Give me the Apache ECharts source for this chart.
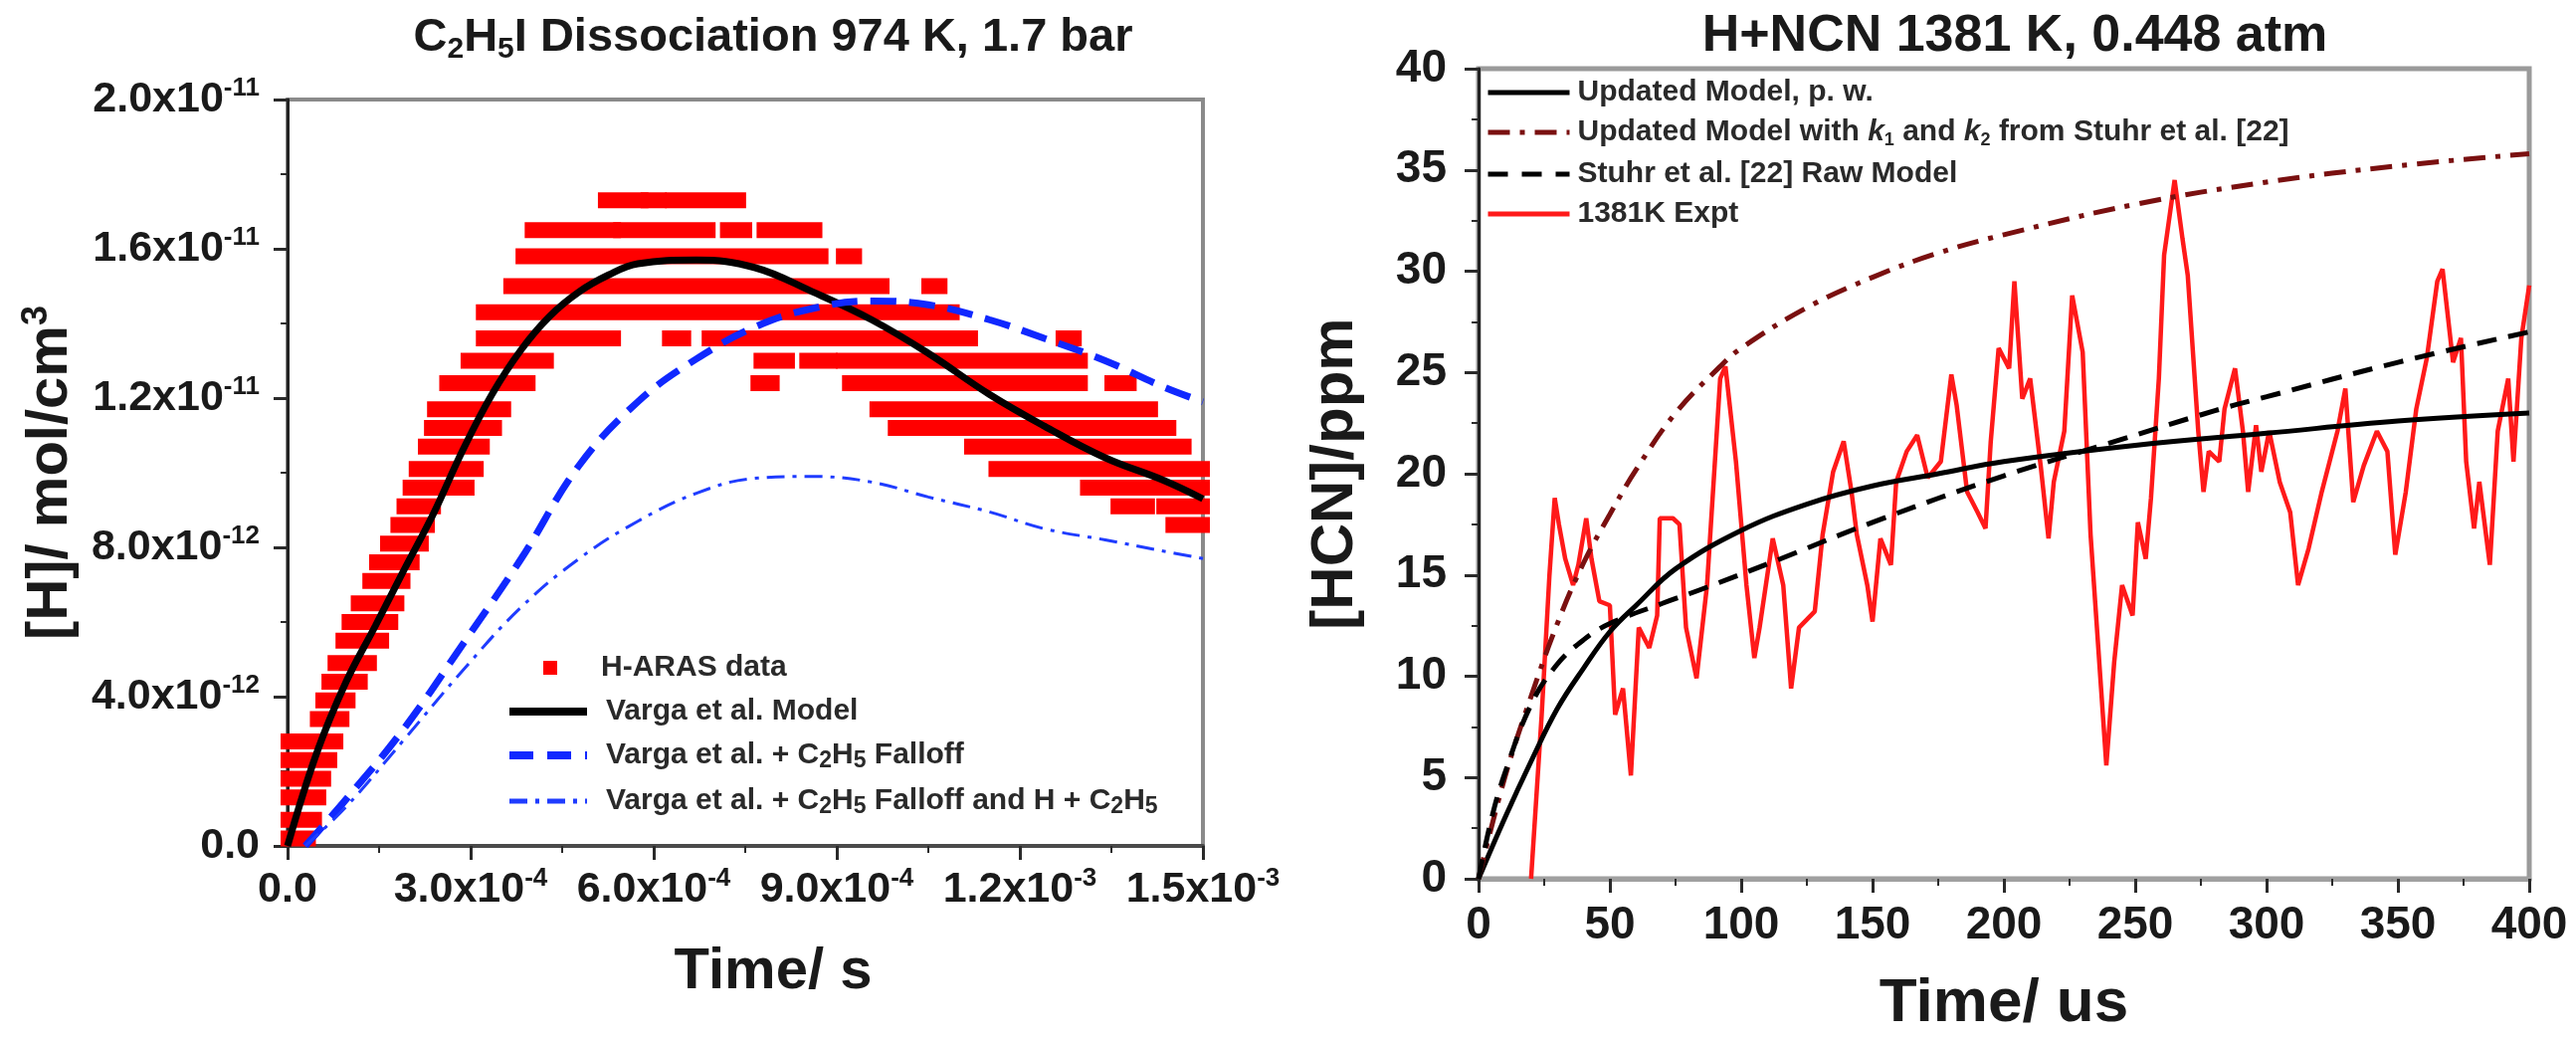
<!DOCTYPE html>
<html>
<head>
<meta charset="utf-8">
<script src="https://cdn.jsdelivr.net/npm/echarts@6/dist/echarts.min.js"></script>
<style>
  html, body { margin: 0; padding: 0; background: #fff; }
  #chart { width: 2589px; height: 1045px; }
</style>
</head>
<body>
<div id="chart"></div>
<script>
// ---- left panel: time in 1e-4 s, [H] in 1e-12 mol/cm3 ----
const leftXTickMant = ['0.0', '3.0', '6.0', '9.0', '1.2', '1.5'];
const leftXTickExp  = ['', '-4', '-4', '-4', '-3', '-3'];
const leftYTickMant = ['0.0', '4.0', '8.0', '1.2', '1.6', '2.0'];
const leftYTickExp  = ['', '-12', '-12', '-11', '-11', '-11'];

// H-ARAS data: horizontal runs of squares [level, tStart, tEnd]
const harasRuns = [
  [17.3, 5.2, 5.8], [17.3, 5.9, 6.1], [17.3, 6.3, 7.4],
  [16.5, 4.0, 5.35], [16.5, 5.45, 6.9], [16.5, 7.2, 7.5], [16.5, 7.8, 8.65],
  [15.8, 3.85, 8.75], [15.8, 9.1, 9.3],
  [15.0, 3.65, 9.75], [15.0, 10.5, 10.7],
  [14.3, 3.2, 10.9],
  [13.6, 3.2, 5.35], [13.6, 6.25, 6.5], [13.6, 6.9, 11.2], [13.6, 12.7, 12.9],
  [13.0, 2.95, 4.25], [13.0, 7.75, 8.2], [13.0, 8.5, 8.9], [13.0, 9.1, 13.0],
  [12.4, 2.6, 3.95], [12.4, 7.7, 7.95], [12.4, 9.2, 13.0], [12.4, 13.5, 13.8],
  [11.7, 2.4, 3.55], [11.7, 9.65, 14.15],
  [11.2, 2.35, 3.4], [11.2, 9.95, 14.45],
  [10.7, 2.25, 3.2], [10.7, 11.2, 14.7],
  [10.1, 2.1, 3.1], [10.1, 11.6, 15.0],
  [9.6, 2.0, 2.95], [9.6, 13.1, 15.0],
  [9.1, 1.9, 2.4], [9.1, 13.6, 14.1], [9.1, 14.35, 15.0],
  [8.6, 1.8, 2.3], [8.6, 14.5, 15.0],
  [8.1, 1.63, 2.2],
  [7.6, 1.45, 2.05],
  [7.1, 1.34, 1.9],
  [6.5, 1.15, 1.8],
  [6.0, 1.0, 1.7],
  [5.5, 0.9, 1.55],
  [4.9, 0.77, 1.35],
  [4.4, 0.67, 1.2],
  [3.9, 0.57, 1.0],
  [3.4, 0.48, 0.9],
  [2.8, 0.0, 0.2], [2.8, 0.33, 0.8],
  [2.3, 0.0, 0.7],
  [1.8, 0.0, 0.6],
  [1.3, 0.0, 0.52],
  [0.7, 0.0, 0.45],
  [0.2, 0.0, 0.35]
];
const vargaModel = [[0, 0], [0.48, 2.5], [0.96, 4.4], [1.44, 5.9], [1.91, 7.4], [2.39, 8.9], [2.87, 10.6],
  [3.35, 12.1], [3.83, 13.3], [4.3, 14.2], [4.78, 14.85], [5.26, 15.3], [5.74, 15.6], [6.7, 15.7],
  [7.65, 15.5], [8.6, 14.85], [9.57, 14.1], [10.5, 13.2], [11.5, 12.1], [12.4, 11.25], [13.4, 10.4],
  [14.35, 9.8], [15, 9.3]];
const vargaFalloff = [[0.29, 0], [0.96, 1.25], [1.91, 3.15], [2.87, 5.4], [3.83, 7.7], [4.78, 10.2],
  [5.74, 11.9], [6.7, 13.05], [7.65, 13.9], [8.6, 14.4], [9.57, 14.6], [10.5, 14.5], [11.5, 14.1],
  [12.4, 13.6], [13.4, 13.0], [14.35, 12.3], [15, 11.9]];
const vargaFalloffHC2H5 = [[0.29, 0], [0.96, 1.05], [1.91, 2.85], [2.87, 4.7], [3.83, 6.4], [4.78, 7.7],
  [5.74, 8.7], [6.7, 9.45], [7.65, 9.85], [8.6, 9.9], [9.57, 9.75], [10.5, 9.35], [11.5, 8.95],
  [12.4, 8.5], [13.4, 8.2], [14.35, 7.9], [15, 7.7]];

// ---- right panel: time in us, [HCN] in ppm ----
const hcnExpt = [[20, 0], [24, 8], [27, 15], [29, 18.8], [30.6, 17.5], [33, 15.8], [36, 14.5], [38, 15.5],
  [41, 17.8], [43, 15.8], [46, 13.7], [50, 13.5], [52, 8.1], [55, 9.4], [58, 5.1], [61, 12.4], [65, 11.4],
  [68, 13], [69, 17.8], [74, 17.8], [76.5, 17.5], [79, 12.4], [83, 9.9], [87, 14.5], [92, 24.7], [94, 25.3],
  [98, 20.6], [102, 14.5], [105, 10.9], [107, 12.4], [112, 16.8], [116, 14.5], [119, 9.4], [122, 12.4],
  [128, 13.2], [131, 17], [135, 20.1], [139, 21.6], [142, 19.1], [144, 17], [148, 14.5], [150, 12.7],
  [153, 16.8], [157, 15.5], [159, 19.6], [163, 21.1], [167, 21.9], [171, 19.8], [176, 20.6], [180, 24.9],
  [182, 23.4], [186, 19.1], [190, 18.1], [193, 17.3], [195, 21.6], [198, 26.2], [202, 25.2], [204, 29.5],
  [207, 23.7], [210, 24.7], [214, 20.4], [217, 16.8], [219, 19.6], [223, 22.1], [226, 28.8], [230, 26],
  [233, 17], [237, 9.4], [239, 5.6], [242, 10.7], [245, 14.5], [249, 13], [251, 17.6], [254, 15.8],
  [256, 18.8], [259, 24.7], [261, 30.8], [265, 34.5], [268, 31.6], [270, 29.8], [274, 22.1], [276, 19.1],
  [278, 21.1], [282, 20.6], [284, 23.2], [288, 25.2], [291, 22.1], [293, 19.1], [296, 22.4], [298, 20.1],
  [301, 22.1], [305, 19.6], [309, 18.1], [312, 14.5], [316, 16.3], [321, 19.1], [327, 22.1], [330, 24.2],
  [333, 18.6], [337, 20.4], [342, 22.1], [346, 21.1], [349, 16], [353, 19.1], [357, 23.2], [361, 25.7],
  [365, 29.5], [367, 30.1], [371, 25.5], [374, 26.7], [376, 20.6], [379, 17.3], [381, 19.6], [385, 15.5],
  [388, 22.1], [392, 24.7], [394, 20.6], [397, 26.7], [400, 29.3]];
const updatedModel = [[0, 0], [10, 3], [20, 5.8], [30, 8.4], [40, 10.4], [50, 12.2], [60, 13.5], [75, 15.3],
  [100, 17.2], [125, 18.5], [150, 19.4], [175, 20.0], [200, 20.6], [250, 21.4], [300, 22.0], [350, 22.6],
  [400, 23.0]];
const updatedModelStuhrK = [[0, 0], [10, 5], [20, 9], [30, 12.6], [40, 15.6], [50, 18], [60, 20.2], [75, 23],
  [92, 25.3], [100, 26.2], [125, 28.2], [150, 29.7], [175, 30.9], [200, 31.8], [250, 33.3], [300, 34.4],
  [350, 35.2], [400, 35.8]];
const stuhrRawModel = [[0, 0], [5, 3], [10, 5.2], [20, 8.6], [30, 10.6], [40, 11.8], [50, 12.6], [70, 13.6],
  [85, 14.3], [115, 15.8], [150, 17.6], [200, 19.9], [240, 21.5], [280, 23.1], [300, 23.8], [350, 25.5],
  [400, 27.0]];

const FONT = 'Liberation Sans, Arial, Helvetica, sans-serif';
const chart = echarts.init(document.getElementById('chart'));

const supLabel = (mant, exp) => (i) => exp[i] ? '{m|' + mant[i] + 'x10}{e|' + exp[i] + '}' : '{m|' + mant[i] + '}';
const supRich = {
  m: { fontSize: 43, fontWeight: 'bold', fontFamily: FONT, color: '#1a1a1a', lineHeight: 48 },
  e: { fontSize: 26, fontWeight: 'bold', fontFamily: FONT, color: '#1a1a1a', lineHeight: 22, verticalAlign: 'top' }
};
const legendRich = {
  t: { fontSize: 30, fontWeight: 'bold', fontFamily: FONT, color: '#2a2a2a', lineHeight: 34 },
  s: { fontSize: 23, fontWeight: 'bold', fontFamily: FONT, color: '#2a2a2a', lineHeight: 18, verticalAlign: 'bottom' }
};
const legendRichR = {
  t: { fontSize: 30, fontWeight: 'bold', fontFamily: FONT, color: '#2a2a2a', lineHeight: 34 },
  k: { fontSize: 30, fontWeight: 'bold', fontStyle: 'italic', fontFamily: FONT, color: '#2a2a2a', lineHeight: 34 },
  s: { fontSize: 18, fontWeight: 'bold', fontFamily: FONT, color: '#2a2a2a', lineHeight: 14, verticalAlign: 'bottom' }
};
const legendNames = {
  'Varga et al. Model': '{t|Varga et al. Model}',
  'Varga et al. + C2H5 Falloff': '{t|Varga et al. + C}{s|2}{t|H}{s|5}{t| Falloff}',
  'Varga et al. + C2H5 Falloff and H + C2H5': '{t|Varga et al. + C}{s|2}{t|H}{s|5}{t| Falloff and H + C}{s|2}{t|H}{s|5}',
  'H-ARAS data': '{t|H-ARAS data}',
  'Updated Model, p. w.': '{t|Updated Model, p. w.}',
  'Updated Model with k1 and k2 from Stuhr et al. [22]': '{t|Updated Model with }{k|k}{s|1}{t| and }{k|k}{s|2}{t| from Stuhr et al. [22]}',
  'Stuhr et al. [22] Raw Model': '{t|Stuhr et al. [22] Raw Model}',
  '1381K Expt': '{t|1381K Expt}'
};
// hide the symbol that line series draw in the middle of their legend icon
const noMarker = { color: 'rgba(0,0,0,0)', borderColor: 'rgba(0,0,0,0)', borderWidth: 0 };

const tickCommon = { show: true, inside: false, length: 14, lineStyle: { color: '#2a2a2a', width: 3 } };
const minorCommon = { show: true, splitNumber: 2, length: 7, lineStyle: { color: '#2a2a2a', width: 2 } };

const option = {
  backgroundColor: '#ffffff',
  animation: false,
  title: [
    {
      text: '{t|C}{s|2}{t|H}{s|5}{t|I Dissociation 974 K, 1.7 bar}',
      left: 772, top: 6, textAlign: 'center',
      textStyle: { rich: {
        t: { fontSize: 47, fontWeight: 'bold', fontFamily: FONT, color: '#1a1a1a', lineHeight: 54 },
        s: { fontSize: 30, fontWeight: 'bold', fontFamily: FONT, color: '#1a1a1a', lineHeight: 28, verticalAlign: 'bottom' }
      } }
    },
    {
      text: 'H+NCN 1381 K, 0.448 atm',
      left: 2020, top: 6, textAlign: 'center',
      textStyle: { fontSize: 52, fontWeight: 'bold', fontFamily: FONT, color: '#1a1a1a' }
    }
  ],
  legend: [
    {
      data: [{ name: 'H-ARAS data', icon: 'rect', itemStyle: { color: '#ff0000' } }],
      orient: 'vertical', left: 546, top: 656, padding: 0,
      itemWidth: 14, itemHeight: 14,
      formatter: n => legendNames[n],
      textStyle: { rich: legendRich, padding: [0, 0, 0, 39] }
    },
    {
      data: [
        { name: 'Varga et al. Model', itemStyle: noMarker, lineStyle: { width: 8, type: 'solid' } },
        { name: 'Varga et al. + C2H5 Falloff', itemStyle: noMarker, lineStyle: { width: 8, type: [24, 14] } },
        { name: 'Varga et al. + C2H5 Falloff and H + C2H5', itemStyle: noMarker, lineStyle: { width: 5, type: [18, 8, 4, 8] } }
      ],
      orient: 'vertical', left: 508, top: 700, padding: 0, itemGap: 14,
      itemWidth: 78, itemHeight: 16,
      formatter: n => legendNames[n],
      textStyle: { rich: legendRich, padding: [0, 0, 0, 14] }
    },
    {
      data: [
        { name: 'Updated Model, p. w.', itemStyle: noMarker, lineStyle: { width: 5, type: 'solid' } },
        { name: 'Updated Model with k1 and k2 from Stuhr et al. [22]', itemStyle: noMarker, lineStyle: { width: 5, type: [22, 10, 5, 10] } },
        { name: 'Stuhr et al. [22] Raw Model', itemStyle: noMarker, lineStyle: { width: 5, type: [20, 14] } },
        { name: '1381K Expt', itemStyle: noMarker, lineStyle: { width: 5, type: 'solid' } }
      ],
      orient: 'vertical', left: 1493, top: 78, padding: 0, itemGap: 10,
      itemWidth: 82, itemHeight: 16,
      formatter: n => legendNames[n],
      textStyle: { rich: legendRichR, padding: [0, 0, 0, 3] }
    }
  ],
  grid: [
    { left: 289, top: 100, width: 920, height: 750, show: true, borderColor: '#8a8a8a', borderWidth: 4, backgroundColor: '#fff' },
    { left: 1486, top: 69, width: 1056, height: 824, show: true, borderColor: '#9a9a9a', borderWidth: 5, backgroundColor: '#fff' }
  ],
  xAxis: [
    {
      gridIndex: 0, type: 'value', min: 0, max: 15, interval: 3,
      name: 'Time/ s', nameLocation: 'middle', nameGap: 98,
      nameTextStyle: { fontSize: 58, fontWeight: 'bold', fontFamily: FONT, color: '#1a1a1a', padding: [0, 0, 0, 56] },
      axisLine: { show: true, lineStyle: { color: '#4a4a4a', width: 4 } },
      axisTick: tickCommon, minorTick: minorCommon,
      splitLine: { show: false },
      axisLabel: { margin: 20, formatter: (v, i) => supLabel(leftXTickMant, leftXTickExp)(i), rich: supRich }
    },
    {
      gridIndex: 1, type: 'value', min: 0, max: 400, interval: 50,
      name: 'Time/ us', nameLocation: 'middle', nameGap: 95,
      nameTextStyle: { fontSize: 62, fontWeight: 'bold', fontFamily: FONT, color: '#1a1a1a' },
      axisLine: { show: true, lineStyle: { color: '#a0a0a0', width: 5 } },
      axisTick: tickCommon, minorTick: minorCommon,
      splitLine: { show: false },
      axisLabel: { margin: 24, fontSize: 46, fontWeight: 'bold', fontFamily: FONT, color: '#1a1a1a' }
    }
  ],
  yAxis: [
    {
      gridIndex: 0, type: 'value', min: 0, max: 20, interval: 4,
      name: '{t|[H]/ mol/cm}{p|3}', nameLocation: 'middle', nameGap: 206,
      nameTextStyle: { rich: {
        t: { fontSize: 58, fontWeight: 'bold', fontFamily: FONT, color: '#1a1a1a', lineHeight: 64 },
        p: { fontSize: 36, fontWeight: 'bold', fontFamily: FONT, color: '#1a1a1a', lineHeight: 36, verticalAlign: 'top' }
      } },
      axisLine: { show: true, lineStyle: { color: '#222', width: 3 } },
      axisTick: tickCommon, minorTick: minorCommon,
      splitLine: { show: false },
      axisLabel: { margin: 28, formatter: (v, i) => supLabel(leftYTickMant, leftYTickExp)(i), rich: supRich }
    },
    {
      gridIndex: 1, type: 'value', min: 0, max: 40, interval: 5,
      name: '[HCN]/ppm', nameLocation: 'middle', nameGap: 114,
      nameTextStyle: { fontSize: 60, fontWeight: 'bold', fontFamily: FONT, color: '#1a1a1a' },
      axisLine: { show: true, lineStyle: { color: '#222', width: 3 } },
      axisTick: tickCommon, minorTick: minorCommon,
      splitLine: { show: false },
      axisLabel: { margin: 32, fontSize: 46, fontWeight: 'bold', fontFamily: FONT, color: '#1a1a1a' }
    }
  ],
  series: [
    {
      name: 'H-ARAS data', type: 'custom', xAxisIndex: 0, yAxisIndex: 0,
      itemStyle: { color: '#ff0000' },
      encode: { x: [1, 2], y: 0 },
      data: harasRuns,
      renderItem: (params, api) => {
        const p0 = api.coord([api.value(1), api.value(0)]);
        const p1 = api.coord([api.value(2), api.value(0)]);
        return {
          type: 'rect',
          shape: { x: p0[0] - 7, y: p0[1] - 8, width: p1[0] - p0[0] + 14, height: 16 },
          style: { fill: '#ff0000' }
        };
      }
    },
    {
      name: 'Varga et al. Model', type: 'line', xAxisIndex: 0, yAxisIndex: 0,
      data: vargaModel, smooth: 0.4, symbol: 'none',
      lineStyle: { color: '#000', width: 7 }, itemStyle: { color: '#000' }
    },
    {
      name: 'Varga et al. + C2H5 Falloff', type: 'line', xAxisIndex: 0, yAxisIndex: 0,
      data: vargaFalloff, smooth: 0.4, symbol: 'none',
      lineStyle: { color: '#1028ff', width: 7, type: [26, 13] }, itemStyle: { color: '#1028ff' }
    },
    {
      name: 'Varga et al. + C2H5 Falloff and H + C2H5', type: 'line', xAxisIndex: 0, yAxisIndex: 0,
      data: vargaFalloffHC2H5, smooth: 0.4, symbol: 'none',
      lineStyle: { color: '#1f3cff', width: 3, type: [18, 8, 4, 8] }, itemStyle: { color: '#1f3cff' }
    },
    {
      name: '1381K Expt', type: 'line', xAxisIndex: 1, yAxisIndex: 1,
      data: hcnExpt, symbol: 'none',
      lineStyle: { color: '#ff1a1a', width: 4.5 }, itemStyle: { color: '#ff1a1a' }
    },
    {
      name: 'Updated Model, p. w.', type: 'line', xAxisIndex: 1, yAxisIndex: 1,
      data: updatedModel, smooth: 0.4, symbol: 'none',
      lineStyle: { color: '#000', width: 5 }, itemStyle: { color: '#000' }
    },
    {
      name: 'Updated Model with k1 and k2 from Stuhr et al. [22]', type: 'line', xAxisIndex: 1, yAxisIndex: 1,
      data: updatedModelStuhrK, smooth: 0.4, symbol: 'none',
      lineStyle: { color: '#7a1010', width: 5, type: [22, 10, 5, 10] }, itemStyle: { color: '#7a1010' }
    },
    {
      name: 'Stuhr et al. [22] Raw Model', type: 'line', xAxisIndex: 1, yAxisIndex: 1,
      data: stuhrRawModel, smooth: 0.4, symbol: 'none',
      lineStyle: { color: '#000', width: 5, type: [20, 12] }, itemStyle: { color: '#000' }
    }
  ]
};

chart.setOption(option);
</script>
</body>
</html>
